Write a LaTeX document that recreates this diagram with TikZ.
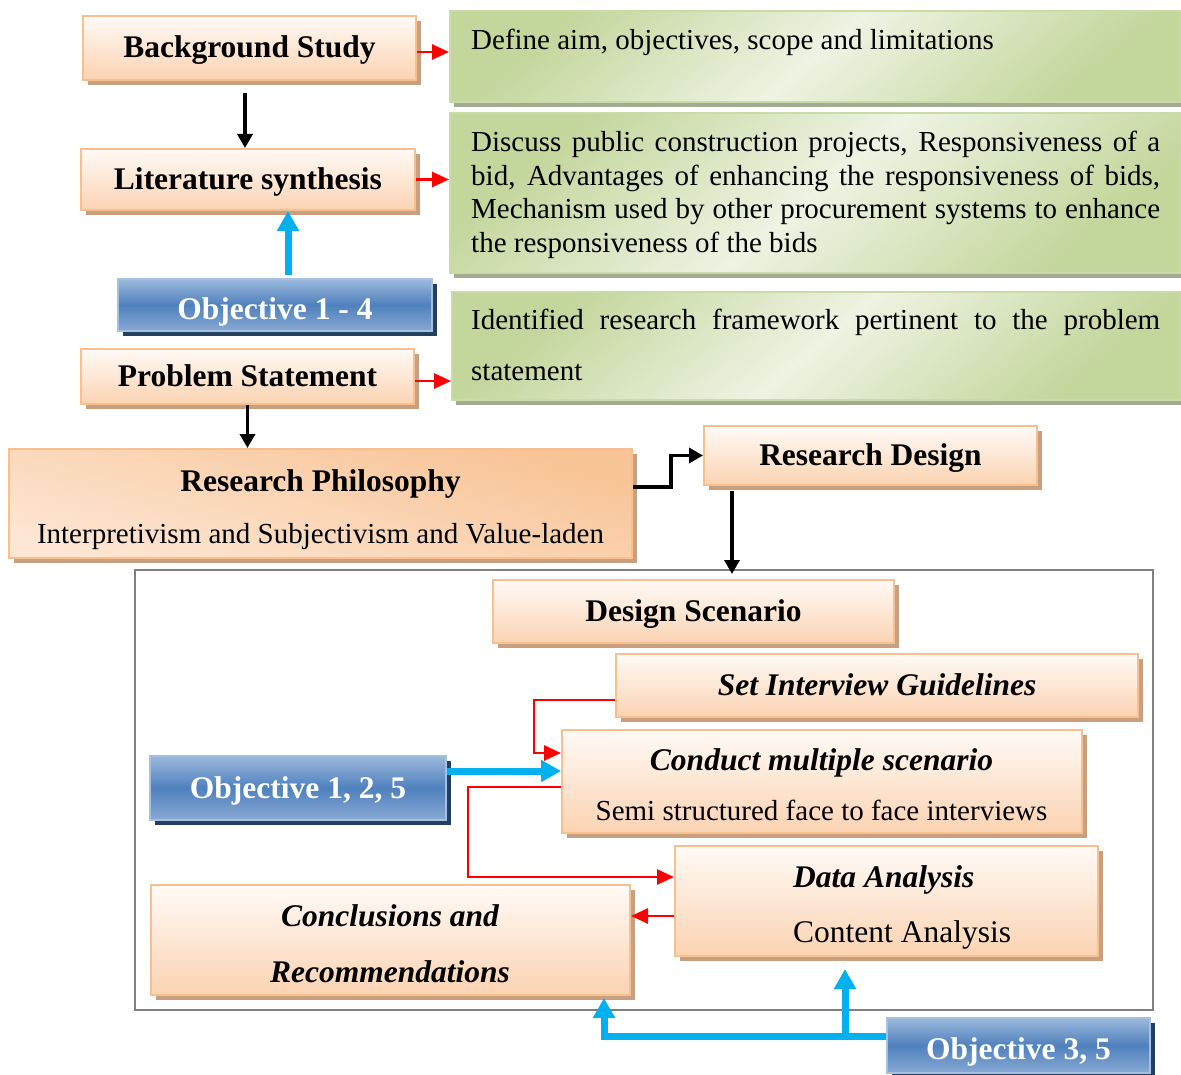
\documentclass[tikz,border=0pt]{standalone}
\usepackage{fontspec}
\setmainfont{Liberation Serif}
\usetikzlibrary{arrows.meta,shadows,calc}

\definecolor{peachedge}{HTML}{F9BF8F}
\definecolor{peachtop}{HTML}{FFFAF6}
\definecolor{peachbot}{HTML}{FBD3B2}
\definecolor{peachshadow}{HTML}{C9A07F}
\definecolor{philtop}{HTML}{F8C395}
\definecolor{philbot}{HTML}{FDE6D3}
\definecolor{greenedge}{HTML}{C9DBA6}
\definecolor{greenlight}{HTML}{EEF3E3}
\definecolor{greendark}{HTML}{C3D69B}
\definecolor{greenshadow}{HTML}{A3AA94}
\definecolor{bluetop}{HTML}{9CB9DC}
\definecolor{bluemid}{HTML}{4F81BD}
\definecolor{bluebot}{HTML}{88A9D3}
\definecolor{blueshadow}{HTML}{243F60}
\definecolor{blueedge}{HTML}{A7C0DF}
\definecolor{arrowblue}{HTML}{00B0F0}
\definecolor{framegrey}{HTML}{7F7F7F}

\newcommand\hdfont{\fontsize{31.5}{36}\selectfont\bfseries}
\newcommand\txfont{\fontsize{29}{34}\selectfont}

\tikzset{
  boxsize/.style 2 args={minimum width=#1pt, minimum height=#2pt},
  capcentre/.style={text height=#1pt, text depth=0pt},
  capcentre/.default=20,
  peachbox/.style={draw=peachedge, line width=2pt, top color=peachtop,
    bottom color=peachbot, inner sep=0pt, font=\hdfont, capcentre,
    general shadow={fill=peachshadow, shadow xshift=5pt, shadow yshift=-5pt}},
  greenbox/.style={draw=greenedge, line width=2pt, top color=greendark,
    bottom color=greendark, middle color=greenlight, shading angle=40,
    inner sep=0pt,
    general shadow={fill=greenshadow, shadow xshift=4pt, shadow yshift=-5pt}},
  objbox/.style={draw=blueedge, line width=1.5pt, top color=bluetop,
    bottom color=bluebot, middle color=bluemid, inner sep=0pt,
    text=white, font=\hdfont, capcentre,
    general shadow={fill=blueshadow, shadow xshift=5pt, shadow yshift=-5pt}},
  redarrow/.style={draw=red, line width=2.6pt,
    -{Triangle[length=17pt,width=15pt]}},
  blackarrow/.style={draw=black, line width=3.8pt,
    -{Triangle[length=14pt,width=15pt]}},
  bluearrow/.style={draw=arrowblue, line width=7pt,
    -{Triangle[length=20pt,width=21pt]}},
  bodytext/.style={font=\txfont, inner sep=0pt},
}

\begin{document}
\begin{tikzpicture}[x=1pt, y=-1pt]
\useasboundingbox (0,0) rectangle (1181,1075);

% outer frame of the design stage
\node[draw=framegrey, line width=2pt, minimum width=1018pt,
  minimum height=440pt, anchor=north west, inner sep=0pt] (frame) at (134,569) {};

% green description panels
\node[greenbox, boxsize={731}{91}, anchor=north west] (g1) at (449,10) {};
\node[greenbox, boxsize={731}{160}, anchor=north west] (g2) at (449,112) {};
\node[greenbox, boxsize={729}{108}, anchor=north west] (g3) at (451,291) {};

\node[bodytext, anchor=base west] at (471,50)
  {Define aim, objectives, scope and limitations};
\node[bodytext, anchor=base west] at (471,152)
  {\makebox[689pt][s]{Discuss public construction projects, Responsiveness of a}};
\node[bodytext, anchor=base west] at (471,186)
  {\makebox[689pt][s]{bid, Advantages of enhancing the responsiveness of bids,}};
\node[bodytext, anchor=base west] at (471,219)
  {\makebox[689pt][s]{Mechanism used by other procurement systems to enhance}};
\node[bodytext, anchor=base west] at (471,253)
  {the responsiveness of the bids};
\node[bodytext, anchor=base west] at (471,330)
  {\makebox[689pt][s]{Identified research framework pertinent to the problem}};
\node[bodytext, anchor=base west] at (471,381) {statement};

% left column
\node[peachbox, boxsize={333}{64}] (bg) at (249.5,48) {Background Study};
\node[peachbox, boxsize={334}{61}] (lit) at (248,179.5) {Literature synthesis};
\node[objbox, boxsize={314}{52}, capcentre=30] (obj14) at (275,305) {Objective 1 - 4};
\node[peachbox, boxsize={333}{55}] (prob) at (247.5,376.5) {Problem Statement};
\node[peachbox, boxsize={623}{109}, top color=philtop, bottom color=philbot,
  shading angle=-15] (phil) at (320.5,503.5) {};
\node[font=\hdfont, anchor=base] at (320.5,491) {Research Philosophy};
\node[bodytext, anchor=base] at (320.5,543)
  {Interpretivism and Subjectivism and Value-laden};
\node[peachbox, boxsize={333}{59}] (rdes) at (870.5,455.5) {Research Design};

% design stage
\node[peachbox, boxsize={401}{63}] (dscen) at (693.5,611.5) {Design Scenario};
\node[peachbox, boxsize={522}{63}, font=\hdfont\itshape] (sig) at (877,685.5)
  {Set Interview Guidelines};
\node[peachbox, boxsize={520}{103}] (cond) at (822,781.5) {};
\node[font=\hdfont\itshape, anchor=base] at (821.5,770) {Conduct multiple scenario};
\node[bodytext, anchor=base] at (821.5,820) {Semi structured face to face interviews};
\node[objbox, boxsize={296}{64}] (obj125) at (298,788) {Objective 1, 2, 5};
\node[peachbox, boxsize={423}{110}] (data) at (886.5,901) {};
\node[font=\hdfont\itshape, anchor=base west, inner sep=0pt] at (793,887) {Data Analysis};
\node[font=\fontsize{31.5}{36}\selectfont, anchor=base west, inner sep=0pt] at (793,942)
  {Content Analysis};
\node[peachbox, boxsize={479}{110}] (concl) at (390.5,940) {};
\node[font=\hdfont\itshape, anchor=base] at (390,926) {Conclusions and};
\node[font=\hdfont\itshape, anchor=base] at (390,982) {Recommendations};
\node[objbox, boxsize={263}{55}, capcentre=27] (obj35) at (1018.5,1045.5) {Objective 3, 5};

% red links to the description panels
\draw[redarrow] ([shift={(0,4)}]bg.east) -- ([shift={(0,4)}]bg.east -| g1.west);
\draw[redarrow] (lit.east) -- (lit.east -| g2.west);
\draw[redarrow] ([shift={(0,4.5)}]prob.east) -- ([shift={(0,4.5)}]prob.east -| g3.west);

% main flow
\draw[blackarrow] ([shift={(-4.5,12)}]bg.south) -- ([shift={(-4.5,0)}]bg.south |- lit.north);
\draw[bluearrow] ([shift={(13,-3)}]obj14.north) -- ([shift={(13,0)}]obj14.north |- lit.south);
\draw[blackarrow] (prob.south) -- (prob.south |- phil.north);
\draw[blackarrow] ([shift={(0,-16.5)}]phil.east) -- ++(38,0) |- (rdes.west);
\draw[blackarrow] ([shift={(-138.5,5)}]rdes.south) -- ([shift={(-138.5,5)}]rdes.south |- frame.north);

% design stage links
\draw[redarrow] ([shift={(0,14.5)}]sig.west) -- ++(-81,0) |- ([shift={(0,-28.5)}]cond.west);
\draw[bluearrow] ([shift={(0,-17)}]obj125.east) -- ([shift={(0,-17)}]obj125.east -| cond.west);
\draw[redarrow] ([shift={(0,5.5)}]cond.west) -- ++(-93,0) |- ([shift={(0,-24)}]data.west);
\draw[redarrow] ([shift={(0,15)}]data.west) -- ([shift={(0,15)}]data.west -| concl.east);

\coordinate (split) at ([shift={(-41.5,0)}]data.south |- obj35.west);
\draw[bluearrow] ([shift={(0,-9.5)}]obj35.west) -| ([shift={(213.5,2)}]concl.south);
\draw[bluearrow] ([shift={(0,-9.5)}]split) -- ([shift={(0,12)}]split |- data.south);
\end{tikzpicture}
\end{document}
